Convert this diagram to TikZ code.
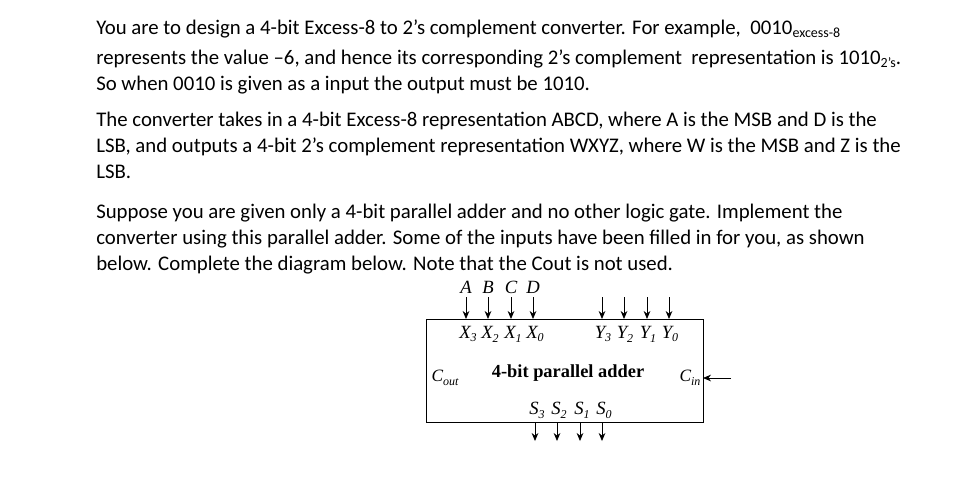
\documentclass[tikz,border=0pt]{standalone}
\usepackage{fontspec}
\usetikzlibrary{arrows.meta}
\setmainfont{Carlito}
\newfontfamily\tms{Liberation Serif}
\newcommand{\sbs}[1]{\raisebox{-0.4ex}{\fontsize{10.5pt}{12pt}\selectfont #1}}
\newcommand{\tsb}[1]{\raisebox{-0.45ex}{\fontsize{9pt}{10pt}\selectfont #1}}
\begin{document}
\begin{tikzpicture}[x=0.75pt,y=-0.75pt,
  txt/.style={anchor=base west,inner sep=0,font=\fontsize{15.6pt}{18pt}\selectfont},
  lab/.style={inner sep=0,font=\tms\fontsize{14pt}{16pt}\selectfont\itshape},
  arr/.style={-{Stealth[length=6pt,width=5pt]},semithick}]
\useasboundingbox (0,0) rectangle (970,480);
\node[txt] (l1) at (96,34) {You are to design a 4-bit Excess-8 to 2’s complement converter. For example,\ \ 0010\sbs{excess-8}};
\node[txt] (l2) at (96,64) {represents the value –6, and hence its corresponding 2’s complement\ \ representation is 1010\sbs{2’s}.};
\node[txt] (l3) at (96,90) {So when 0010 is given as a input the output must be 1010.};
\node[txt] (l4) at (96,126) {The converter takes in a 4-bit Excess-8 representation ABCD, where A is the MSB and D is the};
\node[txt] (l5) at (96,152) {LSB, and outputs a 4-bit 2’s complement representation WXYZ, where W is the MSB and Z is the};
\node[txt] (l6) at (96,178) {LSB.};
\node[txt] (l7) at (96,218) {Suppose you are given only a 4-bit parallel adder and no other logic gate. Implement the};
\node[txt] (l8) at (96,244) {converter using this parallel adder. Some of the inputs have been filled in for you, as shown};
\node[txt] (l9) at (96,270) {below. Complete the diagram below. Note that the Cout is not used.};
\draw[semithick] (426,319) rectangle (703,422);
\node[inner sep=0,font=\tms\fontsize{13.8pt}{16pt}\selectfont\bfseries] (t) at (568,373) {4-bit parallel adder};
\foreach \n/\x/\s in {A/466/3,B/488/2,C/511/1,D/533/0}{
  \node[lab] (i\n) at (\x,287) {\n};
  \coordinate (xt\n) at (\x,297);
  \coordinate (xb\n) at (\x,319);
  \draw[arr] (xt\n) -- (xb\n);
  \node[lab] (x\n) at (\x+2,334) {X\tsb{\s}};
}
\foreach \s/\x in {3/602,2/624,1/647,0/669}{
  \coordinate (yt\s) at (\x,297);
  \coordinate (yb\s) at (\x,319);
  \draw[arr] (yt\s) -- (yb\s);
  \node[lab] (y\s) at (\x+1,334) {Y\tsb{\s}};
}
\foreach \s/\x in {3/535,2/557,1/580,0/602}{
  \node[lab] (s\s) at (\x+2,410) {S\tsb{\s}};
  \coordinate (st\s) at (\x,422);
  \coordinate (sb\s) at (\x,441);
  \draw[arr] (st\s) -- (sb\s);
}
\node[lab,font=\tms\fontsize{13pt}{15pt}\selectfont\itshape] (cout) at (445,378) {C\tsb{out}};
\node[lab,font=\tms\fontsize{13pt}{15pt}\selectfont\itshape] (cin) at (690,378) {C\tsb{in}};
\coordinate (cinR) at (731,378);
\coordinate (cinL) at (703,378);
\draw[arr] (cinR) -- (cinL);
\end{tikzpicture}
\end{document}
